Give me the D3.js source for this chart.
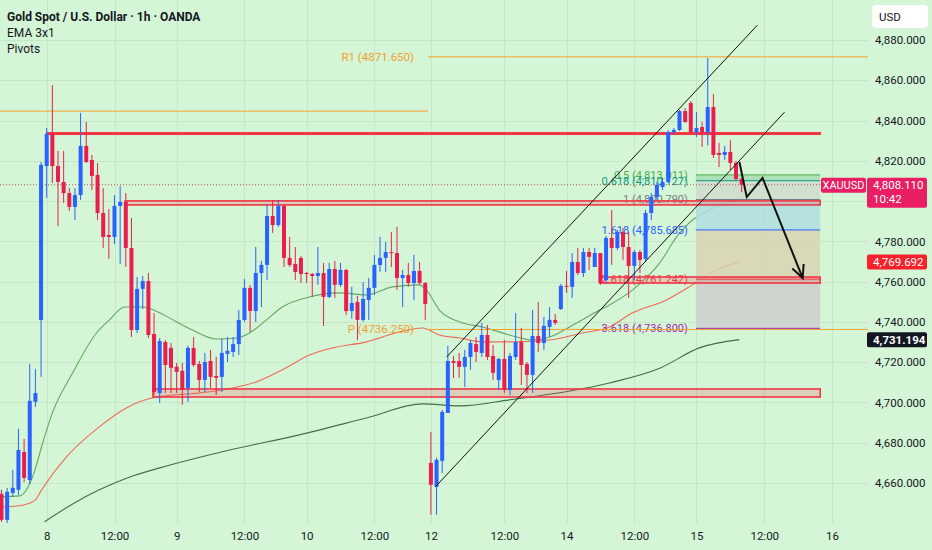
<!DOCTYPE html>
<html>
<head>
<meta charset="utf-8">
<script src="https://cdn.jsdelivr.net/npm/d3@7"></script>
<style>
  body { margin: 0; background: #d5f6d6; }
  svg text { font-family: Roboto, "Liberation Sans", sans-serif; }
</style>
</head>
<body>
<div id="chart"></div>
<script>

/********* data *********/

// hourly candles, XAUUSD OANDA
const opens = [4654.6,4641.7,4655.1,4656.6,4675.4,4661.5,4700.3,4741.0,4817.4,4833.3,
  4817.4,4809.5,4804.0,4797.1,4803.0,4827.4,4820.4,4813.0,4794.1,4783.2,
  4782.2,4797.6,4799.6,4776.7,4736.0,4756.4,4760.3,4734.0,4704.7,4730.0,
  4727.1,4717.7,4715.7,4707.2,4727.1,4719.1,4711.2,4720.6,4713.2,4712.7,
  4724.1,4725.1,4729.0,4741.0,4756.9,4745.4,4764.3,4768.3,4792.6,4788.1,
  4797.6,4771.8,4768.8,4771.8,4764.3,4763.8,4762.8,4764.3,4752.4,4766.3,
  4758.4,4765.8,4745.4,4749.9,4741.0,4750.9,4756.9,4768.3,4771.8,4774.7,
  4774.2,4761.8,4763.3,4759.3,4765.3,4759.3,4670.0,4658.1,4671.0,4694.8,
  4720.6,4720.6,4717.7,4722.6,4729.0,4724.6,4733.5,4723.1,4711.2,4721.6,
  4706.2,4722.6,4730.0,4719.1,4713.7,4733.0,4729.5,4737.5,4741.0,4746.4,
  4757.9,4757.4,4769.8,4764.3,4774.7,4767.3,4774.2,4760.8,4781.7,4776.7,
  4784.7,4777.2,4767.8,4774.7,4771.3,4794.1,4802.0,4807.0,4809.5,4834.3,
  4835.3,4844.7,4848.7,4834.3,4836.8,4834.3,4846.7,4823.9,4822.9,4824.4,
  4819.0,4811.0];
const highs = [4656.6,4657.6,4666.5,4686.9,4681.9,4719.1,4716.7,4819.4,4836.3,4857.6,
  4824.9,4824.9,4806.5,4806.5,4843.8,4839.3,4822.9,4818.9,4806.5,4796.1,
  4803.0,4807.5,4804.0,4791.6,4762.3,4762.8,4764.3,4744.4,4732.0,4731.0,
  4729.5,4719.6,4719.6,4728.1,4732.5,4720.6,4724.6,4726.1,4722.6,4731.5,
  4732.5,4732.5,4745.9,4761.3,4758.4,4777.2,4770.3,4798.1,4800.6,4800.6,
  4798.1,4782.2,4777.2,4772.8,4764.8,4764.3,4777.2,4769.3,4769.3,4770.3,
  4769.3,4766.3,4757.4,4752.9,4759.8,4761.8,4773.3,4782.2,4779.7,4784.7,
  4787.2,4765.8,4769.3,4773.3,4769.8,4759.8,4685.4,4672.5,4696.3,4728.1,
  4723.1,4724.6,4726.1,4731.0,4732.5,4739.5,4738.5,4728.6,4722.1,4731.0,
  4724.6,4744.4,4737.0,4720.1,4745.9,4749.9,4742.5,4747.4,4744.0,4758.9,
  4765.3,4774.2,4776.7,4776.7,4776.7,4776.7,4774.2,4782.7,4795.6,4785.7,
  4786.7,4784.7,4775.7,4775.7,4795.6,4804.0,4809.5,4811.5,4835.3,4836.3,
  4845.2,4846.2,4849.7,4844.2,4839.3,4871.1,4853.2,4828.9,4827.4,4830.4,
  4820.0,4811.5];
const lows = [4640.7,4640.2,4653.1,4654.1,4660.5,4659.5,4697.8,4712.7,4801.6,4809.0,
  4787.6,4799.1,4795.1,4790.6,4800.6,4818.9,4805.5,4790.6,4776.7,4771.3,
  4778.7,4768.8,4767.3,4732.5,4734.5,4746.4,4732.0,4703.7,4699.8,4704.7,
  4704.7,4704.7,4698.8,4700.3,4717.7,4705.2,4705.2,4707.2,4703.7,4705.2,
  4720.1,4722.6,4723.6,4740.0,4735.0,4740.0,4747.4,4760.8,4784.2,4787.2,
  4767.3,4767.3,4760.8,4759.3,4759.3,4752.4,4758.4,4738.0,4751.9,4751.9,
  4757.4,4743.5,4741.5,4731.0,4740.0,4741.0,4753.4,4764.8,4764.8,4767.3,
  4755.9,4747.4,4757.4,4750.9,4758.4,4741.0,4644.2,4644.2,4665.0,4694.8,
  4712.2,4712.2,4707.7,4716.2,4720.1,4722.6,4721.1,4711.2,4706.2,4704.7,
  4703.7,4721.1,4708.7,4704.7,4704.7,4725.1,4726.1,4732.5,4738.5,4745.9,
  4754.4,4751.9,4763.3,4762.3,4765.8,4767.3,4758.4,4759.3,4768.3,4775.7,
  4770.8,4751.9,4760.8,4764.3,4769.8,4790.6,4800.6,4805.5,4809.0,4832.8,
  4834.8,4838.8,4833.8,4831.8,4826.9,4827.7,4821.4,4816.9,4820.4,4815.5,
  4810.0,4804.4];
const closes = [4641.7,4655.6,4657.6,4676.4,4662.5,4700.8,4704.7,4818.0,4833.3,4817.4,
  4809.5,4804.0,4797.1,4803.0,4827.4,4819.4,4812.5,4794.1,4782.2,4782.2,
  4797.6,4799.6,4776.7,4736.0,4756.4,4760.3,4733.5,4705.2,4730.5,4718.6,
  4717.2,4715.2,4706.2,4727.1,4718.6,4711.2,4720.1,4712.7,4712.2,4724.6,
  4725.6,4729.0,4741.0,4756.9,4745.4,4764.3,4768.3,4792.6,4788.1,4797.6,
  4771.8,4768.3,4764.8,4763.8,4763.8,4762.8,4764.3,4752.4,4766.3,4758.4,
  4765.8,4745.4,4749.4,4741.0,4751.4,4756.9,4768.3,4771.8,4774.7,4774.2,
  4761.8,4763.3,4759.3,4765.3,4759.3,4748.9,4659.1,4671.5,4695.3,4720.6,
  4719.6,4717.7,4722.6,4729.5,4725.1,4733.5,4722.6,4714.7,4721.6,4706.2,
  4723.1,4730.0,4718.6,4713.7,4733.0,4729.5,4738.0,4741.0,4739.5,4757.9,
  4757.4,4769.8,4764.3,4774.7,4772.3,4774.2,4759.3,4781.7,4776.7,4784.7,
  4777.2,4767.8,4774.7,4770.8,4794.1,4802.0,4808.0,4809.5,4834.3,4835.3,
  4844.7,4839.3,4834.3,4836.3,4834.3,4846.7,4822.9,4822.9,4824.4,4819.0,
  4811.0,4808.1];

// EMA 3x1 lines, [bar index, price]
const emaFast = [[0,4653.1],[3.2,4653.6],[5.5,4663.0],[7.3,4680.0],[9.0,4694.8],[12.6,4714.7],
  [16.8,4734.5],[19.1,4741.0],[21.8,4747.4],[25.0,4747.4],[28.0,4744.5],[29.7,4742.0],
  [33.8,4736.0],[38.1,4731.5],[41.6,4732.0],[43.9,4734.5],[46.9,4741.0],[49.7,4747.4],
  [54.5,4752.4],[59.8,4754.4],[64.6,4753.4],[69.2,4757.4],[74.0,4758.4],[75.2,4755.9],
  [77.5,4745.9],[81.1,4740.0],[85.1,4737.5],[91.2,4732.5],[94.0,4731.0],[97.0,4732.5],
  [101.8,4739.5],[105.3,4745.0],[107.6,4748.4],[111.7,4755.9],[116.5,4769.3],[119.5,4782.2],
  [122.3,4790.6],[125.3,4795.6],[128.3,4799.1],[131,4801.1]];
const emaMid = [[0,4648.1],[3.9,4649.1],[6.0,4651.6],[7.1,4656.6],[11.5,4673.0],[17.3,4687.9],
  [22.1,4697.3],[27.4,4702.7],[35.0,4704.7],[40.9,4707.2],[45.1,4710.2],[49.7,4716.2],
  [54.5,4723.6],[58.6,4727.1],[64.6,4730.1],[70.4,4735.0],[74.5,4737.0],[77.5,4733.5],
  [81.1,4732.0],[85.1,4730.1],[91.2,4730.1],[97.0,4731.0],[102.8,4734.5],[107.6,4737.5],
  [111.7,4744.5],[117.7,4750.9],[122.3,4758.4],[126.5,4765.8],[130.6,4769.7]];
const emaSlow = [[7.6,4640.7],[12.9,4650.1],[17.3,4656.6],[22.7,4663.0],[28.0,4667.5],
  [40.4,4676.4],[52.7,4683.9],[64.6,4692.3],[74.5,4699.3],[81.1,4698.3],[89.9,4701.3],
  [107.6,4709.7],[116.5,4717.0],[123.5,4727.1],[130.6,4731.2]];

const lastPrice = 4808.110;
const lastTime = "10:42";
const emaMidLast = 4769.692;
const emaSlowLast = 4731.194;

// axes
const priceTicks = [4660, 4680, 4700, 4720, 4740, 4760, 4780, 4800, 4820, 4840, 4860, 4880];
const timeTicks = [8, 20, 31, 43, 54, 66, 76, 89, 100, 112, 123, 135, 147];
const timeLabels = ["8", "12:00", "9", "12:00", "10", "12:00", "12", "12:00", "14", "12:00", "15", "12:00", "16"];

// pivots
const weekStart = 75.5;
const prevPivot = 4844.7;
const pivotNames = ["R1", "P"];
const pivotValues = [4871.650, 4736.250];

// support / resistance boxes [from bar, top, bottom]
const zoneStart = [8, 21.9, 26.8, 105.9];
const zoneTop = [4833.9, 4800.1, 4706.7, 4762.3];
const zoneBottom = [4833.2, 4798.1, 4702.7, 4759.3];
const drawEnd = 144.9;

// fib extension
const fibStart = 122.9;
const fibLevels = [0.5, 0.618, 1, 1.618, 2.618, 3.618];
const fibPrices = [4813.011, 4810.127, 4800.790, 4785.685, 4761.242, 4736.800];

// channel and projection
const channelUpper = [[78.8, 4722.6], [133.8, 4887.4]];
const channelLower = [[76.8, 4658.1], [138.6, 4844.2]];
const projection = [[130.6, 4819.4], [131.9, 4802.0], [134.7, 4811.5], [141.8, 4761.8]];

/********* chart *********/

const width = 932, height = 550;
const plotRight = 868, plotBottom = 524;
const upColor = "#2962ff", downColor = "#e91e4f";
const fibColors = ["#4caf50", "#089981", "#787b86", "#2962ff", "#f23645", "#9c27b0"];
const fibFills = ["#a6dcb0", "#cfdccd", "#afdde0", "#d9d4b4", "#cbcfcc"];

const x = d3.scaleLinear().domain([0, 153.5]).range([1.5, 1.5 + 153.5 * 5.65]);
const y = d3.scaleLinear().domain([4660, 4880]).range([483, 40]);

const svg = d3.select("#chart").append("svg")
    .attr("width", width)
    .attr("height", height);

svg.append("rect").attr("width", width).attr("height", height).attr("fill", "#d5f6d6");

svg.append("clipPath").attr("id", "plot")
    .append("rect").attr("width", plotRight).attr("height", plotBottom);

// grid
const grid = svg.append("g").attr("stroke", "#c4e7c6").attr("stroke-width", 1);
grid.selectAll("line.h").data(priceTicks).enter().append("line")
    .attr("x1", 0).attr("x2", plotRight)
    .attr("y1", d => Math.round(y(d)) + 0.5).attr("y2", d => Math.round(y(d)) + 0.5);
grid.selectAll("line.v").data(timeTicks).enter().append("line")
    .attr("x1", d => Math.round(x(d)) + 0.5).attr("x2", d => Math.round(x(d)) + 0.5)
    .attr("y1", 0).attr("y2", plotBottom);

const plot = svg.append("g").attr("clip-path", "url(#plot)");

// EMA lines
const emaLine = d3.line().x(d => x(d[0])).y(d => y(d[1])).curve(d3.curveMonotoneX);
plot.append("path").datum(emaSlow).attr("d", emaLine)
    .attr("fill", "none").attr("stroke", "#3f7048").attr("stroke-width", 1.1);
plot.append("path").datum(emaMid).attr("d", emaLine)
    .attr("fill", "none").attr("stroke", "#ee6a58").attr("stroke-width", 1.1);
plot.append("path").datum(emaFast).attr("d", emaLine)
    .attr("fill", "none").attr("stroke", "#62a862").attr("stroke-width", 1.1);

// fib boxes
const xf0 = x(fibStart), xf1 = x(drawEnd);
for (let k = 0; k < fibFills.length; k++) {
    plot.append("rect")
        .attr("x", xf0).attr("width", xf1 - xf0)
        .attr("y", y(fibPrices[k]))
        .attr("height", y(fibPrices[k + 1]) - y(fibPrices[k]))
        .attr("fill", fibFills[k]).attr("fill-opacity", 0.85);
}
plot.selectAll("line.fib").data(fibPrices).enter().append("line")
    .attr("x1", xf0).attr("x2", xf1)
    .attr("y1", d => y(d)).attr("y2", d => y(d))
    .attr("stroke", (d, i) => fibColors[i]).attr("stroke-width", 1);
plot.selectAll("text.fib").data(fibPrices).enter().append("text")
    .attr("x", xf0 - 8).attr("y", d => y(d)).attr("dy", "0.35em")
    .attr("text-anchor", "end").attr("font-size", 11)
    .attr("fill", (d, i) => fibColors[i])
    .text((d, i) => fibLevels[i] + " (" + d3.format(",.3f")(d) + ")");

// pivot lines
plot.append("line")
    .attr("x1", 0).attr("x2", x(weekStart))
    .attr("y1", y(prevPivot)).attr("y2", y(prevPivot))
    .attr("stroke", "#f5a02a").attr("stroke-width", 1);
pivotValues.forEach(function (v, i) {
    plot.append("line")
        .attr("x1", x(weekStart)).attr("x2", plotRight)
        .attr("y1", y(v)).attr("y2", y(v))
        .attr("stroke", "#f5a02a").attr("stroke-width", 1);
    plot.append("text")
        .attr("x", x(weekStart) - 14).attr("y", y(v)).attr("dy", "0.35em")
        .attr("text-anchor", "end").attr("font-size", 11.5)
        .attr("fill", "#f0a030")
        .text(pivotNames[i] + " (" + v.toFixed(3) + ")");
});

// red zones
zoneStart.forEach(function (s, i) {
    plot.append("rect")
        .attr("x", x(s)).attr("width", x(drawEnd) - x(s))
        .attr("y", y(zoneTop[i])).attr("height", y(zoneBottom[i]) - y(zoneTop[i]))
        .attr("fill", "rgba(242,54,69,0.2)")
        .attr("stroke", "#f23645").attr("stroke-width", 1.6);
});

// current price dotted line
plot.append("line")
    .attr("x1", 0).attr("x2", plotRight)
    .attr("y1", y(lastPrice)).attr("y2", y(lastPrice))
    .attr("stroke", "#b0564f").attr("stroke-width", 1)
    .attr("stroke-dasharray", "1,2");

// candles
const bars = plot.selectAll("g.candle").data(d3.range(opens.length)).enter()
    .append("g").attr("class", "candle");
bars.append("line")
    .attr("x1", i => x(i)).attr("x2", i => x(i))
    .attr("y1", i => y(highs[i])).attr("y2", i => y(lows[i]))
    .attr("stroke", i => closes[i] >= opens[i] ? upColor : downColor)
    .attr("stroke-width", 1);
bars.append("rect")
    .attr("x", i => x(i) - 2).attr("width", 4)
    .attr("y", i => y(Math.max(opens[i], closes[i])))
    .attr("height", i => Math.max(1, Math.abs(y(opens[i]) - y(closes[i]))))
    .attr("fill", i => closes[i] >= opens[i] ? upColor : downColor);

// channel
[channelUpper, channelLower].forEach(function (c) {
    plot.append("line")
        .attr("x1", x(c[0][0])).attr("y1", y(c[0][1]))
        .attr("x2", x(c[1][0])).attr("y2", y(c[1][1]))
        .attr("stroke", "#111").attr("stroke-width", 1);
});

// projection arrow
plot.append("path").datum(projection)
    .attr("d", d3.line().x(d => x(d[0])).y(d => y(d[1])))
    .attr("fill", "none").attr("stroke", "#111").attr("stroke-width", 2)
    .attr("stroke-linejoin", "miter");
const tip = projection[projection.length - 1], prev = projection[projection.length - 2];
const ang = Math.atan2(y(tip[1]) - y(prev[1]), x(tip[0]) - x(prev[0]));
const head = [ang + Math.PI - 0.45, ang + Math.PI + 0.45].map(a =>
    [x(tip[0]) + 14 * Math.cos(a), y(tip[1]) + 14 * Math.sin(a)]);
plot.append("path")
    .attr("d", "M" + head[0] + "L" + [x(tip[0]), y(tip[1])] + "L" + head[1])
    .attr("fill", "none").attr("stroke", "#111").attr("stroke-width", 2);

// price axis (the tick under the last price tag is hidden, as in the platform)
const axisTicks = priceTicks.filter(d => Math.abs(y(d) - y(lastPrice)) > 18);
const yAxis = svg.append("g")
    .attr("transform", "translate(" + plotRight + ",0)")
    .call(d3.axisRight(y).tickValues(axisTicks).tickSize(0).tickPadding(7)
        .tickFormat(d3.format(",.3f")));
yAxis.select(".domain").remove();
yAxis.selectAll("text").attr("font-size", 11.5).attr("fill", "#131722")
    .style("font-family", "Roboto, sans-serif");

// time axis
const xAxis = svg.append("g")
    .attr("transform", "translate(0," + plotBottom + ")")
    .call(d3.axisBottom(x).tickValues(timeTicks).tickSize(0).tickPadding(8)
        .tickFormat((d, i) => timeLabels[i]));
xAxis.select(".domain").remove();
xAxis.selectAll("text").attr("font-size", 11.5).attr("fill", "#131722")
    .style("font-family", "Roboto, sans-serif");

// USD box
svg.append("rect").attr("x", 872).attr("y", 5).attr("width", 56).attr("height", 23)
    .attr("rx", 4).attr("fill", "#fff");
svg.append("text").attr("x", 879).attr("y", 21).attr("font-size", 11.5)
    .attr("fill", "#131722").text("USD");

// last price tags
const yl = y(lastPrice);
svg.append("rect").attr("x", 821).attr("y", yl - 7).attr("width", 45).attr("height", 15)
    .attr("rx", 2).attr("fill", "#e91e63");
svg.append("text").attr("x", 843.5).attr("y", yl).attr("dy", "0.36em")
    .attr("text-anchor", "middle").attr("font-size", 11).attr("fill", "#fff").text("XAUUSD");
svg.append("rect").attr("x", 867).attr("y", yl - 7).attr("width", 60).attr("height", 30)
    .attr("rx", 2).attr("fill", "#e91e63");
svg.append("text").attr("x", 873).attr("y", yl).attr("dy", "0.36em")
    .attr("font-size", 11.5).attr("fill", "#fff").text(d3.format(",.3f")(lastPrice));
svg.append("text").attr("x", 873).attr("y", yl + 14).attr("dy", "0.36em")
    .attr("font-size", 11.5).attr("fill", "#fff").text(lastTime);

const yr = y(emaMidLast);
svg.append("rect").attr("x", 867).attr("y", yr - 7.5).attr("width", 60).attr("height", 15)
    .attr("rx", 2).attr("fill", "#f7212a");
svg.append("text").attr("x", 873).attr("y", yr).attr("dy", "0.36em")
    .attr("font-size", 11.5).attr("fill", "#fff").text(d3.format(",.3f")(emaMidLast));

const yd = y(emaSlowLast);
svg.append("rect").attr("x", 867).attr("y", yd - 7.5).attr("width", 60).attr("height", 15)
    .attr("rx", 2).attr("fill", "#131722");
svg.append("text").attr("x", 873).attr("y", yd).attr("dy", "0.36em")
    .attr("font-size", 11.5).attr("font-weight", "bold").attr("fill", "#fff")
    .text(d3.format(",.3f")(emaSlowLast));

// legend
const legend = svg.append("g").attr("fill", "#131722").attr("font-size", 12);
legend.append("text").attr("x", 7).attr("y", 21).attr("font-weight", "bold")
    .text("Gold Spot / U.S. Dollar · 1h · OANDA");
legend.append("text").attr("x", 7).attr("y", 37).text("EMA 3x1");
legend.append("text").attr("x", 7).attr("y", 53).text("Pivots");

</script>
</body>
</html>
